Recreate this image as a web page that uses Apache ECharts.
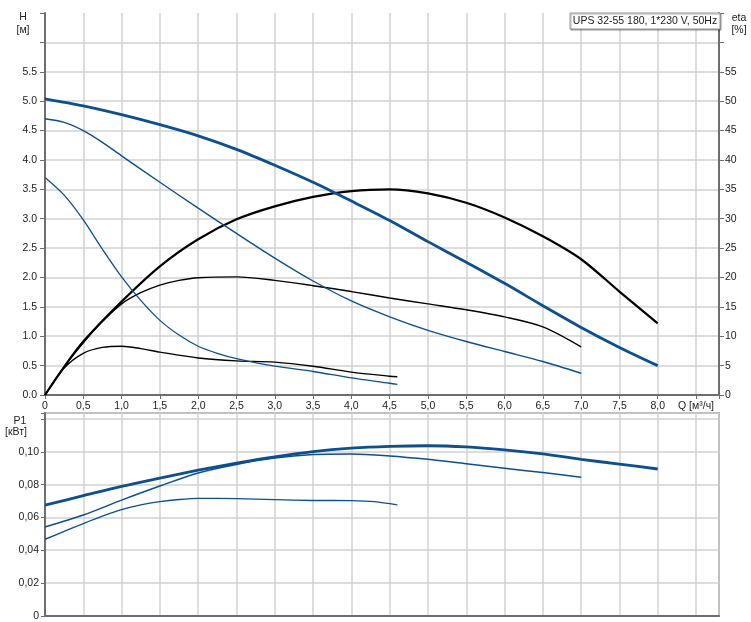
<!DOCTYPE html>
<html>
<head>
<meta charset="utf-8">
<script src="https://cdn.jsdelivr.net/npm/echarts@6/dist/echarts.min.js"></script>
<style>html,body{margin:0;padding:0;background:#fff}#c{width:751px;height:622px}</style>
</head>
<body>
<div id="c"></div>
<script>
// ---- data (Q in m3/h) ----
const qH3 = [0,0.5,1,1.5,2,2.5,3,3.5,4,4.5,5,5.5,6,6.5,7,7.5,8];
const h3  = [5.04,4.92,4.77,4.60,4.41,4.18,3.91,3.62,3.30,2.97,2.61,2.26,1.90,1.52,1.15,0.81,0.50];
const qH2 = [0,0.25,0.5,0.75,1,1.5,2,2.5,3,3.5,4,4.5,5,5.5,6,6.5,7];
const h2  = [4.70,4.64,4.50,4.30,4.07,3.62,3.18,2.75,2.33,1.94,1.60,1.33,1.10,0.91,0.74,0.57,0.37];
const qH1 = [0,0.25,0.5,0.75,1,1.25,1.5,1.75,2,2.25,2.5,3,3.5,4,4.5,4.6];
const h1  = [3.70,3.40,2.98,2.48,2.01,1.61,1.27,1.02,0.83,0.71,0.62,0.49,0.40,0.29,0.20,0.18];

const qE3 = [0,0.25,0.5,1,1.5,2,2.5,3,3.5,4,4.5,5,5.5,6,6.5,7,7.5,8];
const e3  = [0,4.8,9.1,15.9,21.9,26.5,29.9,32.1,33.7,34.7,35.0,34.3,32.7,30.2,27.0,23.1,17.6,12.2];
const qE2 = [0,0.25,0.5,0.75,1,1.25,1.5,1.75,2,2.5,3,3.5,4,4.5,5,5.5,6,6.5,7];
const e2  = [0,4.8,8.9,12.5,15.5,17.4,18.7,19.5,19.95,20.1,19.5,18.6,17.6,16.5,15.5,14.5,13.3,11.6,8.2];
const qE1 = [0,0.25,0.5,0.75,1,1.25,1.5,2,2.5,3,3.5,4,4.5,4.6];
const e1  = [0,4.6,7.1,8.1,8.3,7.9,7.3,6.3,5.8,5.6,4.9,3.9,3.2,3.1];

const qP3 = [0,0.5,1,1.5,2,2.5,3,3.5,4,4.5,5,5.5,6,6.5,7,7.5,8];
const p3  = [0.0675,0.0733,0.0790,0.0841,0.0889,0.0932,0.0970,0.1002,0.1023,0.1034,0.1038,0.1031,0.1013,0.0988,0.0955,0.0926,0.0896];
const qP2 = [0,0.5,1,1.5,2,2.5,3,3.5,4,4.5,5,5.5,6,6.5,7];
const p2  = [0.0542,0.0615,0.0706,0.0792,0.0872,0.0924,0.0963,0.0984,0.0988,0.0976,0.0955,0.0928,0.0901,0.0874,0.0846];
const qP1 = [0,0.25,0.5,0.75,1,1.25,1.5,1.75,2,2.5,3,3.5,4,4.3,4.6];
const p1  = [0.0467,0.0515,0.0563,0.0608,0.0648,0.0677,0.0697,0.0710,0.0717,0.0715,0.0709,0.0704,0.0703,0.0697,0.0677];

const titleText = 'UPS 32-55 180, 1*230 V, 50Hz';
const qName = 'Q [м³/ч]';

// ---- chart ----
const BLUE = '#0d4f8f', BLACK = '#000000';
const AXIS = '#6e6e6e', GRID = '#d2d2d2', TXT = '#222';
const FONT = 'Liberation Sans, Arial, sans-serif';
const FS = 10.5;
const pairs = (xs, ys) => xs.map((x, i) => [x, ys[i]]);
const line = (name, xs, ys, color, width, xi, yi) => ({
  name, type: 'line', xAxisIndex: xi, yAxisIndex: yi, data: pairs(xs, ys),
  smooth: 0.3, symbol: 'none', lineStyle: { color, width }, z: 3
});
const fmtQ = v => {
  if (Math.abs(v) < 1e-9) return '0';
  if (Math.abs(v - 8.5) < 1e-6) return qName;
  if (v > 8.6) return '';
  return v.toFixed(1).replace('.', ',');
};

const chart = echarts.init(document.getElementById('c'), null, { renderer: 'canvas' });
chart.setOption({
  animation: false,
  textStyle: { fontFamily: FONT },
  grid: [
    { left: 45, top: 13, width: 674, height: 382, show: false },
    { left: 45, top: 413, width: 674, height: 202.75, show: true, borderColor: AXIS, borderWidth: 1.5, backgroundColor: 'transparent' }
  ],
  xAxis: [
    { gridIndex: 0, type: 'value', min: 0, max: 8.8, interval: 0.5,
      axisLine: { show: true, lineStyle: { color: AXIS, width: 2 } },
      axisTick: { show: true, length: 4, lineStyle: { color: AXIS } },
      axisLabel: { formatter: fmtQ, color: TXT, fontSize: FS, fontFamily: FONT, margin: 6, showMaxLabel: true },
      splitLine: { show: true, lineStyle: { color: GRID, width: 1.5 } } },
    { gridIndex: 1, type: 'value', min: 0, max: 8.8, interval: 0.5,
      axisLine: { show: true, lineStyle: { color: AXIS, width: 2 } },
      axisTick: { show: false }, axisLabel: { show: false },
      splitLine: { show: true, lineStyle: { color: GRID, width: 1.5 } } }
  ],
  yAxis: [
    { gridIndex: 0, type: 'value', min: 0, max: 6.5, interval: 0.5, position: 'left',
      axisLine: { show: true, lineStyle: { color: AXIS, width: 2 } },
      axisTick: { show: true, length: 5, lineStyle: { color: AXIS } },
      axisLabel: { formatter: v => v > 5.75 ? '' : v.toFixed(1), color: TXT, fontSize: FS, fontFamily: FONT, margin: 8 },
      splitLine: { show: true, showMaxLine: false, lineStyle: { color: GRID, width: 1.5 } } },
    { gridIndex: 0, type: 'value', min: 0, max: 65, interval: 5, position: 'right',
      axisLine: { show: true, lineStyle: { color: AXIS, width: 2 } },
      axisTick: { show: true, length: 5, lineStyle: { color: AXIS } },
      axisLabel: { formatter: v => v > 57 ? '' : String(v), color: TXT, fontSize: FS, fontFamily: FONT, margin: 6 },
      splitLine: { show: false } },
    { gridIndex: 1, type: 'value', min: 0, max: 0.1238, interval: 0.02, position: 'left',
      axisLine: { show: true, lineStyle: { color: AXIS, width: 2 } },
      axisTick: { show: true, length: 4, lineStyle: { color: AXIS } },
      axisLabel: { formatter: v => v < 1e-9 ? '0' : (v > 0.11 ? '' : v.toFixed(2).replace('.', ',')), color: TXT, fontSize: FS, fontFamily: FONT, margin: 6, showMaxLabel: true },
      splitLine: { show: true, lineStyle: { color: GRID, width: 1.5 } } }
  ],
  series: [
    line('eta3', qE3, e3, BLACK, 2.2, 0, 1),
    line('eta2', qE2, e2, BLACK, 1.4, 0, 1),
    line('eta1', qE1, e1, BLACK, 1.4, 0, 1),
    line('H3', qH3, h3, BLUE, 2.8, 0, 0),
    line('H2', qH2, h2, BLUE, 1.4, 0, 0),
    line('H1', qH1, h1, BLUE, 1.3, 0, 0),
    line('P3', qP3, p3, BLUE, 2.8, 1, 2),
    line('P2', qP2, p2, BLUE, 1.5, 1, 2),
    line('P1', qP1, p1, BLUE, 1.4, 1, 2)
  ],
  graphic: [
    { type: 'rect', shape: { x: 570, y: 13, width: 150, height: 16 }, z: 100,
      style: { fill: '#fff', stroke: '#9a9a9a', lineWidth: 1, shadowColor: 'rgba(0,0,0,0.35)', shadowOffsetX: 1, shadowOffsetY: 1, shadowBlur: 1 } },
    { type: 'text', x: 645, y: 21, z: 101,
      style: { text: titleText, fill: TXT, font: FS + 'px ' + FONT, textAlign: 'center', textVerticalAlign: 'middle' } },
    { type: 'text', x: 23, y: 17, z: 101, style: { text: 'H', fill: TXT, font: FS + 'px ' + FONT, textAlign: 'center', textVerticalAlign: 'middle' } },
    { type: 'text', x: 23, y: 30, z: 101, style: { text: '[м]', fill: TXT, font: FS + 'px ' + FONT, textAlign: 'center', textVerticalAlign: 'middle' } },
    { type: 'text', x: 739, y: 18, z: 101, style: { text: 'eta', fill: TXT, font: FS + 'px ' + FONT, textAlign: 'center', textVerticalAlign: 'middle' } },
    { type: 'text', x: 739, y: 30, z: 101, style: { text: '[%]', fill: TXT, font: FS + 'px ' + FONT, textAlign: 'center', textVerticalAlign: 'middle' } },
    { type: 'text', x: 20, y: 421, z: 101, style: { text: 'P1', fill: TXT, font: FS + 'px ' + FONT, textAlign: 'center', textVerticalAlign: 'middle' } },
    { type: 'text', x: 16, y: 432, z: 101, style: { text: '[кВт]', fill: TXT, font: FS + 'px ' + FONT, textAlign: 'center', textVerticalAlign: 'middle' } }
  ]
});
</script>
</body>
</html>
